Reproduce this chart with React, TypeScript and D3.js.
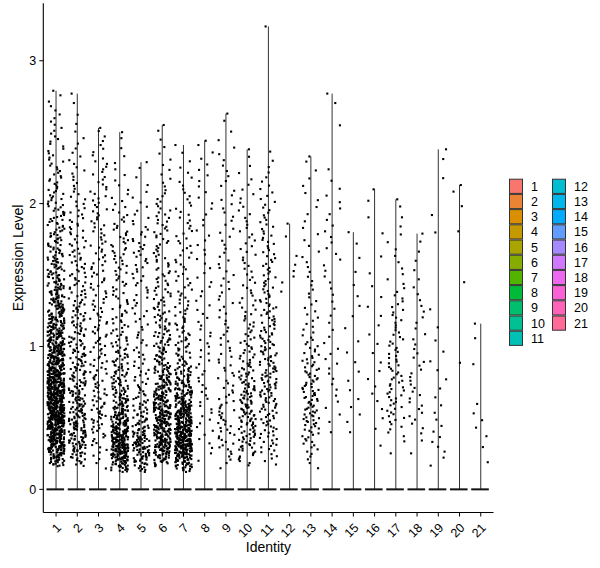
import * as d3 from 'd3';

// cluster identities
const identities = d3.range(1, 22).map(String);

// top of each violin = highest expression value in the cluster
const maxValues = [2.79, 2.77, 2.53, 2.50, 2.29, 2.55, 2.41, 2.44, 2.63, 2.38, 3.24,
  1.86, 2.33, 2.77, 1.80, 2.10, 2.03, 1.79, 2.38, 2.13, 1.16];

// number of non-zero cells per 0.2-wide bin (0-0.2, 0.2-0.4, ... ), read from the jitter clouds
const binCounts = [
  [0, 150, 220, 200, 150, 100, 65, 45, 35, 28, 20, 14, 10, 6],
  [0, 60, 62, 45, 38, 30, 25, 20, 18, 15, 10, 8, 4, 2],
  [2, 12, 25, 20, 18, 18, 15, 15, 14, 14, 12, 10, 5],
  [30, 165, 90, 45, 30, 20, 15, 15, 18, 12, 6, 4, 2],
  [20, 75, 32, 18, 12, 10, 10, 12, 14, 8, 4, 2],
  [0, 115, 115, 72, 42, 30, 22, 18, 16, 16, 8, 5, 3],
  [10, 195, 145, 72, 30, 20, 15, 12, 12, 10, 8, 4],
  [0, 6, 8, 8, 8, 8, 6, 6, 6, 5, 5, 5, 2],
  [1, 15, 18, 12, 10, 8, 8, 8, 7, 7, 6, 5, 3, 1],
  [0, 32, 42, 36, 22, 15, 12, 10, 10, 8, 6, 3],
  [0, 20, 25, 35, 30, 25, 20, 15, 14, 12, 8, 4],
  [0, 0, 0, 0, 0, 0, 0, 5, 1, 1],
  [1, 15, 30, 28, 20, 10, 8, 6, 5, 4, 4, 3],
  [0, 0, 4, 5, 6, 4, 4, 5, 5, 5, 4, 1, 0, 2],
  [0, 0, 4, 3, 3, 2, 3, 2, 2],
  [0, 1, 3, 4, 3, 3, 3, 2, 1, 2, 1],
  [0, 2, 15, 18, 15, 12, 10, 5, 4, 3, 1],
  [0, 2, 8, 8, 7, 5, 5, 3, 3],
  [1, 6, 4, 3, 3, 2, 1, 0, 0, 2, 0, 2],
  [0, 0, 0, 0, 1, 0, 0, 1, 0, 1, 2],
  [1, 2, 4, 0, 1, 1],
];

const binWidth = 0.2;
const yTicks = [0, 1, 2, 3];

// ggplot2 default hue palette: hcl(h, c = 100, l = 65)
function hueColor(h: number) {
  const L = 65, C = 100;
  const Xn = 95.047, Yn = 100, Zn = 108.883;
  const un = (4 * Xn) / (Xn + 15 * Yn + 3 * Zn);
  const vn = (9 * Yn) / (Xn + 15 * Yn + 3 * Zn);
  const rad = (h * Math.PI) / 180;
  const U = C * Math.cos(rad), V = C * Math.sin(rad);
  const Y = Yn * Math.pow((L + 16) / 116, 3);
  const u = U / (13 * L) + un;
  const v = V / (13 * L) + vn;
  const X = (9 * Y * u) / (4 * v);
  const Z = -X / 3 - 5 * Y + (3 * Y) / v;
  const x = X / 100, y = Y / 100, z = Z / 100;
  const lin = [
    3.240479 * x - 1.53715 * y - 0.498535 * z,
    -0.969256 * x + 1.875992 * y + 0.041556 * z,
    0.055648 * x - 0.204043 * y + 1.057311 * z,
  ];
  const g = lin.map(c => {
    const s = c <= 0.0031308 ? 12.92 * c : 1.055 * Math.pow(c, 1 / 2.4) - 0.055;
    return Math.round(Math.max(0, Math.min(1, s)) * 255);
  });
  return d3.rgb(g[0], g[1], g[2]).formatHex();
}

const hues = d3.range(21).map(i => 15 + (360 / 21) * i);
const colors = hues.map(hueColor);

const left = 43.3, right = 493.5, top = 3.3, bottom = 512.5;

const x = d3.scalePoint<string>().domain(identities).range([left, right]).padding(0.6);
const yMax = d3.max(maxValues)!;
const y = d3.scaleLinear().domain([-0.05 * yMax, 1.05 * yMax]).range([bottom, top]);
const step = x.step();

// turn binned counts into individual values: inverse of the piecewise-linear cumulative
function valuesFromBins(counts: number[], vmax: number) {
  const n = d3.sum(counts);
  const centers = counts.map((_, b) => (b + 0.5) * binWidth);
  centers.push(counts.length * binWidth + 0.05);
  const dens = d3.scaleLinear().domain(centers).range([...counts, 0]).clamp(true);
  const lo = counts[0] > 0 ? 0.12 : 0.16, dv = 0.002;
  const grid = d3.range(lo, vmax + dv / 2, dv);
  const cum: number[] = [];
  let acc = 0;
  grid.forEach(v => { acc += Math.max(0, dens(v)); cum.push(acc); });
  const out: number[] = [];
  for (let k = 0; k < n; k++) {
    const q = ((k + 0.5) / n) * acc;
    const idx = d3.bisectLeft(cum, q);
    out.push(grid[Math.min(idx, grid.length - 1)]);
  }
  return out;
}

// deterministic jitter position (hash of index)
function hash01(i: number) {
  let h = (i + 0x9e3779b9) | 0;
  h = Math.imul(h ^ (h >>> 16), 0x85ebca6b);
  h = Math.imul(h ^ (h >>> 13), 0xc2b2ae35);
  h ^= h >>> 16;
  return (h >>> 0) / 4294967296;
}

type Pt = { cx: number; cy: number };
const points: Pt[] = [];
let seq = 0;
identities.forEach((id, i) => {
  const cx0 = x(id)!;
  const vals = valuesFromBins(binCounts[i], maxValues[i]);
  vals.push(maxValues[i]);
  vals.forEach(v => {
    seq++;
    const jit = (hash01(seq) * 2 - 1) * 0.4 * step;
    points.push({ cx: cx0 + jit, cy: y(v) });
  });
});

const font = 'Liberation Sans, Arial, sans-serif';

export default function App() {
  return (
    <svg width={600} height={568} style={{ position: 'absolute', left: 0, top: 0, background: '#fff' }}
      fontFamily={font}>
      {/* violins: spike at zero + thin line up to the max */}
      {identities.map((id, i) => (
        <g key={id}>
          <line x1={x(id)} x2={x(id)} y1={y(0)} y2={y(maxValues[i])} stroke="#333" strokeWidth={1} />
          <rect x={x(id)! - 0.45 * step} width={0.9 * step - 1.5} y={y(0) - 1} height={2} fill="#111" />
        </g>
      ))}
      {points.map((p, i) => (
        <rect key={i} x={p.cx - 1.05} y={p.cy - 1.05} width={2.1} height={2.1} fill="#000" />
      ))}
      {/* axes */}
      <line x1={left} x2={left} y1={top} y2={bottom} stroke="#000" strokeWidth={1.1} />
      <line x1={left} x2={right} y1={bottom} y2={bottom} stroke="#000" strokeWidth={1.1} />
      {yTicks.map(t => (
        <g key={t}>
          <line x1={left - 4} x2={left} y1={y(t)} y2={y(t)} stroke="#000" />
          <text x={left - 7} y={y(t)} dy="0.36em" textAnchor="end" fontSize={12.5}>{t}</text>
        </g>
      ))}
      {identities.map(id => (
        <g key={id}>
          <line x1={x(id)} x2={x(id)} y1={bottom} y2={bottom + 4} stroke="#000" />
          <text transform={`translate(${x(id)! + 6},${bottom + 16}) rotate(-45)`} textAnchor="end"
            fontSize={12.5}>{id}</text>
        </g>
      ))}
      <text transform={`translate(23,${(top + bottom) / 2}) rotate(-90)`} textAnchor="middle" fontSize={14}>
        Expression Level
      </text>
      <text x={(left + right) / 2} y={552} textAnchor="middle" fontSize={14}>Identity</text>
      {/* legend */}
      {identities.map((id, i) => {
        const col = i < 11 ? 0 : 1;
        const row = i < 11 ? i : i - 11;
        const lx = 509 + col * 43;
        const ly = 178.7 + row * 15.2;
        return (
          <g key={id}>
            <rect x={lx + 0.5} y={ly + 0.5} width={13} height={14.2} fill={colors[i]} stroke="#333" strokeWidth={1} />
            <text x={lx + 22} y={ly + 7.6} dy="0.36em" fontSize={12.5}>{id}</text>
          </g>
        );
      })}
    </svg>
  );
}
